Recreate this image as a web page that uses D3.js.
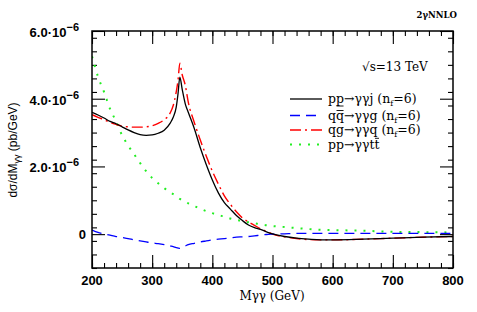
<!DOCTYPE html>
<html>
<head>
<meta charset="utf-8">
<script src="https://cdn.jsdelivr.net/npm/d3@7"></script>
<style>
    body { margin: 0; background: #fff; }
    svg { display: block; }
    .tick-label { font: bold 13px 'Liberation Sans', Arial, sans-serif; }
    .serif { font-family: 'DejaVu Serif', serif; }
</style>
</head>
<body>
<div id="content"></div>
<script>
'use strict';

// invariant mass grid (GeV), shared by all series
var masses = [200, 210, 220, 230, 240, 250, 260, 270, 280, 290, 300, 310, 320, 330, 335, 340, 343, 346,
    350, 355, 360, 370, 380, 390, 400, 410, 420, 430, 440, 450, 460, 470, 480, 490, 500,
    520, 540, 560, 580, 600, 650, 700, 750, 800];

// dsigma/dM in units of 1e-6 pb/GeV
var ppJet = [3.60, 3.52, 3.43, 3.33, 3.26, 3.17, 3.08, 3.00, 2.94, 2.92, 2.93, 2.98, 3.07, 3.28, 3.45, 3.75, 4.15, 4.64,
    4.27, 3.85, 3.60, 3.12, 2.55, 2.05, 1.60, 1.22, 0.93, 0.74, 0.55, 0.40, 0.27, 0.19, 0.14, 0.07, 0.01,
    -0.07, -0.12, -0.15, -0.17, -0.17, -0.15, -0.12, -0.09, -0.07];

var qqbar = [0.12, 0.05, 0.01, -0.03, -0.07, -0.10, -0.13, -0.17, -0.20, -0.23, -0.26, -0.28, -0.31, -0.35, -0.37, -0.40, -0.41, -0.42,
    -0.39, -0.35, -0.31, -0.27, -0.23, -0.20, -0.17, -0.15, -0.13, -0.11, -0.09, -0.08, -0.07, -0.05, -0.03, -0.01, 0.00,
    0.01, 0.02, 0.02, 0.02, 0.02, 0.02, 0.02, 0.02, 0.02];

var qg = [3.53, 3.45, 3.38, 3.30, 3.24, 3.19, 3.17, 3.16, 3.16, 3.17, 3.20, 3.27, 3.38, 3.58, 3.80, 4.20, 4.55, 5.05,
    4.70, 4.40, 3.90, 3.30, 2.78, 2.30, 1.86, 1.48, 1.13, 0.88, 0.66, 0.48, 0.36, 0.26, 0.16, 0.08, 0.00,
    -0.08, -0.13, -0.16, -0.17, -0.17, -0.15, -0.12, -0.09, -0.07];

var ttbar = [5.25, 4.65, 4.20, 3.70, 3.33, 2.92, 2.62, 2.36, 2.10, 1.86, 1.66, 1.50, 1.36, 1.23, 1.18, 1.12, 1.08, 1.04,
    1.00, 0.96, 0.91, 0.83, 0.75, 0.68, 0.62, 0.56, 0.52, 0.46, 0.42, 0.39, 0.35, 0.32, 0.29, 0.26, 0.24,
    0.21, 0.18, 0.15, 0.13, 0.12, 0.10, 0.07, 0.06, 0.05];

var xTicks = [200, 300, 400, 500, 600, 700, 800];
var yTicks = [0, 2e-6, 4e-6, 6e-6];
var yTickLabels = ['0', '2.0\u00b710', '4.0\u00b710', '6.0\u00b710'];
var yTickExps = ['', '\u22126', '\u22126', '\u22126'];

// legend label pieces: [text, style] where style is '', 'sub', 'over' or 'under'
var seriesInfo = [
    { key: 'ppJet', values: ppJet, color: '#000000', dash: null, width: 1.3,
        label: [['p', ''], ['p', 'under'], ['\u2192\u03b3\u03b3j (n', ''], ['f', 'sub'], ['=6)', '']] },
    { key: 'qqbar', values: qqbar, color: '#0000ff', dash: '10,6', width: 1.3,
        label: [['q', ''], ['q', 'over'], ['\u2192\u03b3\u03b3g (n', ''], ['f', 'sub'], ['=6)', '']] },
    { key: 'qg', values: qg, color: '#ff0000', dash: '11,4,2,4', width: 1.4,
        label: [['qg\u2192\u03b3\u03b3q (n', ''], ['f', 'sub'], ['=6)', '']] },
    { key: 'ttbar', values: ttbar, color: '#22ee22', dash: '2,7', width: 2,
        label: [['pp\u2192\u03b3\u03b3t', ''], ['t', 'over']] }
];

function run() {
    var width = 477, height = 312;
    var margin = { top: 31, left: 92, bottom: 44, right: 24 };

    var svg = d3.select('#content')
        .append('svg')
        .attr('width', width)
        .attr('height', height);

    var chart = svg.append('g')
        .attr('transform', 'translate(' + margin.left + ' ' + margin.top + ')');

    var w = width - margin.left - margin.right;
    var h = height - margin.top - margin.bottom;

    var x = d3.scaleLinear().domain([200, 800]).range([0, w]);
    var y = d3.scaleLinear().domain([-1e-6, 6e-6]).range([h, 0]);

    var xMinor = d3.range(200, 801, 20);
    var yMinor = d3.range(-10, 61, 4).map(function (d) { return d * 1e-7; });

    // inward ticks on all four sides
    function tickAxis(axisFn, scale, values, size, transform) {
        var g = chart.append('g')
            .attr('transform', transform || null)
            .call(axisFn(scale).tickValues(values).tickSize(-size).tickFormat(''));
        g.select('.domain').remove();
        g.selectAll('line').attr('stroke', '#000').attr('stroke-width', 1.1);
        return g;
    }

    tickAxis(d3.axisBottom, x, xMinor, 5, 'translate(0 ' + h + ')');
    tickAxis(d3.axisBottom, x, xTicks, 13, 'translate(0 ' + h + ')');
    tickAxis(d3.axisTop, x, xMinor, 5);
    tickAxis(d3.axisTop, x, xTicks, 13);
    tickAxis(d3.axisLeft, y, yMinor, 5);
    tickAxis(d3.axisLeft, y, yTicks, 13);
    tickAxis(d3.axisRight, y, yMinor, 5, 'translate(' + w + ' 0)');
    tickAxis(d3.axisRight, y, yTicks, 13, 'translate(' + w + ' 0)');

    // x tick labels
    chart.append('g').selectAll('text')
        .data(xTicks)
        .enter()
        .append('text')
        .attr('class', 'tick-label')
        .attr('x', function (d) { return x(d); })
        .attr('y', h + 17)
        .attr('text-anchor', 'middle')
        .text(function (d) { return d; });

    // y tick labels with exponent
    var yl = chart.append('g').selectAll('text')
        .data(yTicks)
        .enter()
        .append('text')
        .attr('class', 'tick-label')
        .attr('x', function (d, i) { return i === 0 ? -6 : -13; })
        .attr('y', function (d, i) { return y(d) + (i === 0 ? 5 : 6); })
        .attr('text-anchor', 'end');
    yl.append('tspan').text(function (d, i) { return yTickLabels[i]; });
    yl.append('tspan')
        .attr('dy', -6)
        .style('font-size', '11px')
        .text(function (d, i) { return yTickExps[i]; });

    // curves
    var line = d3.line()
        .x(function (d) { return x(d[0]); })
        .y(function (d) { return y(d[1] * 1e-6); })
        .curve(d3.curveMonotoneX);

    chart.append('defs').append('clipPath')
        .attr('id', 'plot-clip')
        .append('rect')
        .attr('width', w)
        .attr('height', h);

    var curves = chart.append('g').attr('clip-path', 'url(#plot-clip)');
    seriesInfo.slice().reverse().forEach(function (s) {
        curves.append('path')
            .datum(masses.map(function (m, i) { return [m, s.values[i]]; }))
            .attr('fill', 'none')
            .attr('stroke', s.color)
            .attr('stroke-width', s.width)
            .attr('stroke-dasharray', s.dash)
            .attr('d', line);
    });

    // frame
    chart.append('rect')
        .attr('width', w)
        .attr('height', h)
        .attr('fill', 'none')
        .attr('stroke', '#000')
        .attr('stroke-width', 1.5);

    // legend
    var legend = chart.append('g')
        .attr('transform', 'translate(' + (290 - margin.left) + ' ' + (99 - margin.top) + ')');

    var row = legend.selectAll('.row')
        .data(seriesInfo)
        .enter()
        .append('g')
        .attr('class', 'row')
        .attr('transform', function (d, i) { return 'translate(0 ' + [0, 16.5, 31, 45.5][i] + ')'; });

    row.append('line')
        .attr('x1', 0)
        .attr('x2', 32)
        .attr('stroke', function (d) { return d.color; })
        .attr('stroke-width', function (d) { return d.width; })
        .attr('stroke-dasharray', function (d) { return d.dash; });

    row.each(function (d) {
        var g = d3.select(this);
        var t = g.append('text')
            .attr('class', 'serif')
            .attr('x', 38)
            .attr('y', 4)
            .style('font-size', '12.5px');
        var shift = 0, idx = 0, bars = [];
        d.label.forEach(function (part) {
            var ts = t.append('tspan').text(part[0]);
            if (part[1] === 'sub') {
                ts.attr('dy', 3).style('font-size', '8px');
                shift = 3;
            } else if (shift) {
                ts.attr('dy', -shift);
                shift = 0;
            }
            if (part[1] === 'over' || part[1] === 'under') bars.push([idx, part[1]]);
            idx += part[0].length;
        });
        // bars over / under single letters (q-bar, t-bar), positions are in text coords
        var node = t.node();
        bars.forEach(function (b) {
            var x0 = node.getStartPositionOfChar(b[0]).x;
            var x1 = node.getEndPositionOfChar(b[0]).x;
            var by = b[1] === 'over' ? (d.key === 'ttbar' ? -6.2 : -5) : 7;
            g.append('line')
                .attr('x1', x0 + 0.5)
                .attr('x2', x1 - 0.5)
                .attr('y1', by)
                .attr('y2', by)
                .attr('stroke', '#000')
                .attr('stroke-width', 0.9);
        });
    });

    svg.append('text')
        .attr('class', 'serif')
        .attr('x', 362)
        .attr('y', 71)
        .style('font-size', '12px')
        .text('\u221as=13 TeV');

    svg.append('text')
        .attr('class', 'serif')
        .attr('x', 457)
        .attr('y', 18)
        .attr('text-anchor', 'end')
        .style('font-size', '8.5px')
        .style('font-weight', 'bold')
        .text('2\u03b3NNLO');

    // axis titles
    svg.append('text')
        .attr('class', 'serif')
        .attr('x', 272)
        .attr('y', 300)
        .attr('text-anchor', 'middle')
        .style('font-size', '12px')
        .text('M\u03b3\u03b3 (GeV)');

    var yt = svg.append('text')
        .attr('transform', 'translate(17 150) rotate(-90)')
        .attr('text-anchor', 'middle')
        .style('font', '12px "Liberation Sans", Arial, sans-serif');
    yt.append('tspan').text('d\u03c3/dM');
    yt.append('tspan').attr('dy', 3).style('font-size', '9px').text('\u03b3\u03b3');
    yt.append('tspan').attr('dy', -3).text(' (pb/GeV)');
}

document.addEventListener('DOMContentLoaded', run);
</script>
</body>
</html>
